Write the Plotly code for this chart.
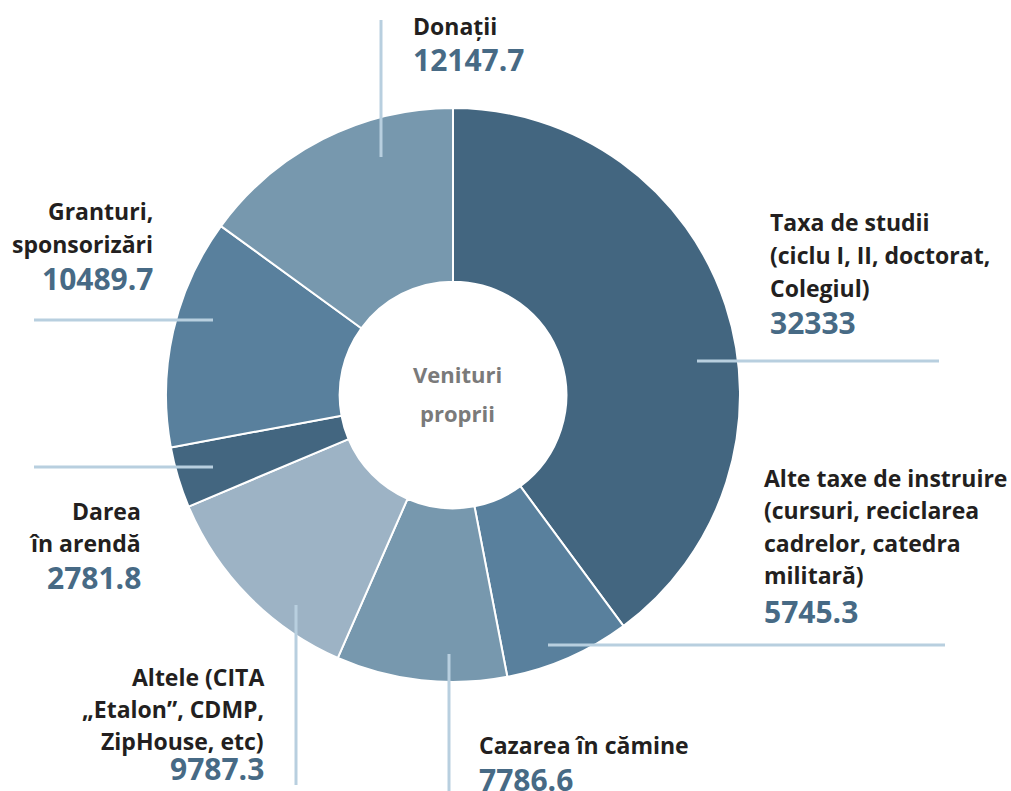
import plotly.graph_objects as go

categories = [
    "Taxa de studii (ciclu I, II, doctorat, Colegiul)",
    "Alte taxe de instruire (cursuri, reciclarea cadrelor, catedra militară)",
    "Cazarea în cămine",
    "Altele (CITA „Etalon”, CDMP, ZipHouse, etc)",
    "Darea în arendă",
    "Granturi, sponsorizări",
    "Donații",
]
values = [32333, 5745.3, 7786.6, 9787.3, 2781.8, 10489.7, 12147.7]
value_labels = ["32333", "5745.3", "7786.6", "9787.3", "2781.8", "10489.7", "12147.7"]
label_lines = [
    ["Taxa de studii", "(ciclu I, II, doctorat,", "Colegiul)"],
    ["Alte taxe de instruire", "(cursuri, reciclarea", "cadrelor, catedra", "militară)"],
    ["Cazarea în cămine"],
    ["Altele (CITA", "„Etalon”, CDMP,", "ZipHouse, etc)"],
    ["Darea", "în arendă"],
    ["Granturi,", "sponsorizări"],
    ["Donații"],
]
colors = ["#436680", "#59809d", "#7798ae", "#9db3c5", "#436680", "#59809d", "#7798ae"]
center_title = ["Venituri", "proprii"]

W, H = 1011, 791
FONT = "Open Sans"
LABEL_COLOR = "#231f20"
VALUE_COLOR = "#476a85"
LINE_COLOR = "#b8cfdf"

def px(x):
    return x / W

def py(y):
    return 1 - y / H

fig = go.Figure(go.Pie(
    labels=categories,
    values=values,
    sort=False,
    direction="clockwise",
    rotation=0,
    hole=0.395,
    textinfo="none",
    hoverinfo="label+value",
    marker=dict(colors=colors, line=dict(color="white", width=2)),
    domain=dict(x=[px(166), px(740)], y=[py(682), py(108)]),
    showlegend=False,
))

# label layout: (anchor x, xanchor, line centers y list, value center y)
layout_spec = [
    (768, "left", [222, 255, 288], 322),
    (762, "left", [478, 510, 543, 575], 611),
    (477, "left", [745], 779),
    (266, "right", [677, 709, 741], 768),
    (143, "right", [511, 543], 577),
    (155, "right", [211, 244], 279),
    (411, "left", [26], 59),
]

annotations = []
for i, (ax, xa, ys, vy) in enumerate(layout_spec):
    for txt, yy in zip(label_lines[i], ys):
        annotations.append(dict(
            x=px(ax), y=py(yy), xref="paper", yref="paper",
            xanchor=xa, yanchor="middle", showarrow=False,
            text="<b>" + txt + "</b>",
            font=dict(family=FONT, size=23, color=LABEL_COLOR),
        ))
    annotations.append(dict(
        x=px(ax), y=py(vy), xref="paper", yref="paper",
        xanchor=xa, yanchor="middle", showarrow=False,
        text="<b>" + value_labels[i] + "</b>",
        font=dict(family=FONT, size=30, color=VALUE_COLOR),
    ))

for txt, yy in zip(center_title, [374, 413]):
    annotations.append(dict(
        x=px(457), y=py(yy), xref="paper", yref="paper",
        xanchor="center", yanchor="middle", showarrow=False,
        text="<b>" + txt + "</b>",
        font=dict(family=FONT, size=22, color="#7a7a7a"),
    ))

# leader lines (x0, y0, x1, y1)
leaders = [
    (697, 361, 939, 361),
    (548, 645, 945, 645),
    (449, 654, 449, 791),
    (296, 605, 296, 785),
    (34, 467, 213, 467),
    (34, 320, 213, 320),
    (381, 20, 381, 157),
]
shapes = []
for x0, y0, x1, y1 in leaders:
    shapes.append(dict(
        type="line", xref="paper", yref="paper",
        x0=px(x0), y0=py(y0), x1=px(x1), y1=py(y1),
        line=dict(color=LINE_COLOR, width=3), layer="above",
    ))

fig.update_layout(
    width=W, height=H,
    margin=dict(l=0, r=0, t=0, b=0),
    paper_bgcolor="white",
    plot_bgcolor="white",
    annotations=annotations,
    shapes=shapes,
)

fig.write_html(
    "out.html",
    config={"displayModeBar": False},
    post_script="document.body.style.margin='0';document.body.style.overflow='hidden';",
)
